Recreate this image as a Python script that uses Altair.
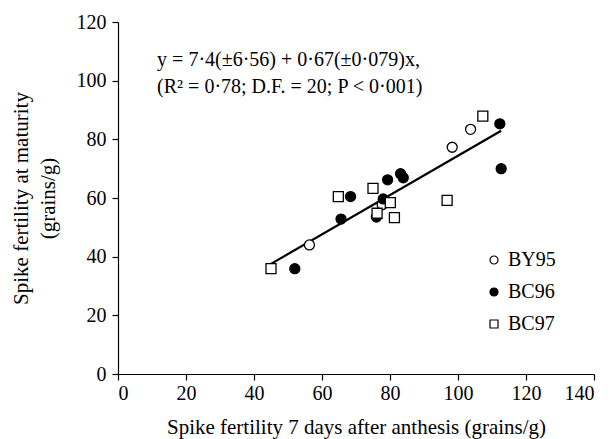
import altair as alt
import pandas as pd

# Data
by95_x = [56.3, 77.7, 98.3, 103.7]
by95_y = [44.0, 57.7, 77.3, 83.4]
bc96_x = [52.0, 65.6, 68.4, 79.3, 83.1, 83.9, 78.0, 76.0, 112.3, 112.7]
bc96_y = [35.9, 52.8, 60.5, 66.2, 68.3, 66.9, 59.7, 53.5, 85.3, 70.0]
bc97_x = [45.0, 64.8, 75.0, 80.1, 76.2, 81.3, 107.3, 96.8]
bc97_y = [35.9, 60.5, 63.3, 58.4, 54.8, 53.3, 87.9, 59.2]
series = ["BY95", "BC96", "BC97"]
intercept = 7.4
slope = 0.67
eq_lines = ["y = 7·4(±6·56) + 0·67(±0·079)x,",
            "(R² = 0·78; D.F. = 20; P < 0·001)"]

FONT = "Liberation Serif"

rows = []
for name, xs, ys in [("BY95", by95_x, by95_y), ("BC96", bc96_x, bc96_y), ("BC97", bc97_x, bc97_y)]:
    for a, b in zip(xs, ys):
        rows.append({"x": a, "y": b, "series": name})
df = pd.DataFrame(rows)

all_x = by95_x + bc96_x + bc97_x
xmin, xmax = min(all_x), max(all_x)
line_df = pd.DataFrame({"x": [xmin, xmax],
                        "y": [intercept + slope * xmin, intercept + slope * xmax]})

text_df = pd.DataFrame({"x": [11.5, 11.5], "y": [106.9, 97.7], "t": eq_lines})

xscale = alt.Scale(domain=[0, 140], nice=False)
yscale = alt.Scale(domain=[0, 120], nice=False)

xaxis = alt.Axis(values=list(range(0, 141, 20)), title="Spike fertility 7 days after anthesis (grains/g)",
                 grid=False, tickSize=6, labelPadding=3, titlePadding=13)
yaxis = alt.Axis(values=list(range(0, 121, 20)), title=["Spike fertility at maturity", "(grains/g)"],
                 grid=False, tickSize=6, labelPadding=6, titlePadding=18, titleLineHeight=27)

line = alt.Chart(line_df).mark_line(color="black", strokeWidth=2.2).encode(
    x=alt.X("x:Q", scale=xscale, axis=xaxis),
    y=alt.Y("y:Q", scale=yscale, axis=yaxis),
)

legend = alt.Legend(title=None, orient="none", legendX=366, legendY=228,
                    labelFontSize=20, labelFont=FONT, labelColor="black", symbolSize=64,
                    symbolStrokeWidth=1.2, rowPadding=12, labelOffset=4, padding=0)

points = alt.Chart(df).mark_point(filled=False, size=100, strokeWidth=1.3, opacity=1).encode(
    x=alt.X("x:Q", scale=xscale),
    y=alt.Y("y:Q", scale=yscale),
    shape=alt.Shape("series:N", scale=alt.Scale(domain=series, range=["circle", "circle", "square"]),
                    legend=legend),
    fill=alt.Fill("series:N", scale=alt.Scale(domain=series, range=["white", "black", "white"]),
                  legend=legend),
    stroke=alt.Stroke("series:N", scale=alt.Scale(domain=series, range=["black", "black", "black"]),
                      legend=legend),
)

text = alt.Chart(text_df).mark_text(align="left", baseline="middle", font=FONT, fontSize=20,
                                    color="black").encode(
    x=alt.X("x:Q", scale=xscale),
    y=alt.Y("y:Q", scale=yscale),
    text="t:N",
)

chart = alt.layer(line, points, text).properties(
    width=476, height=352,
    autosize=alt.AutoSizeParams(type="none"),
    padding={"left": 110, "top": 14, "right": 8, "bottom": 66},
).configure_view(stroke=None).configure_axis(
    domainColor="black", tickColor="black", labelColor="black", titleColor="black",
    labelFont=FONT, titleFont=FONT, labelFontSize=20, titleFontSize=21, titleFontWeight="normal",
    domainWidth=1.2, tickWidth=1.2,
)

chart.save("out.html", embed_options={"renderer": "svg", "actions": False})
